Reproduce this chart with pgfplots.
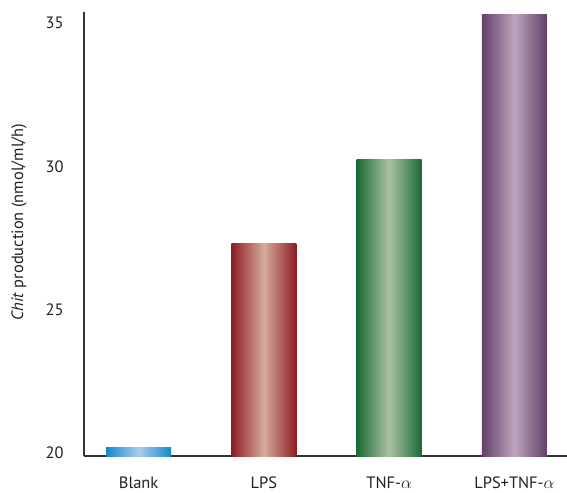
\documentclass[border=0pt]{standalone}
\usepackage{pgfplots}
\pgfplotsset{compat=1.18}
\usepackage{fontspec}
\setmainfont{PT Sans}
\definecolor{bd}{HTML}{1787CC}\definecolor{bl}{HTML}{AACDEA}
\definecolor{rd}{HTML}{8E1B22}\definecolor{rl}{HTML}{D6AC9E}
\definecolor{gd}{HTML}{1A6A34}\definecolor{gl}{HTML}{ABC2A4}
\definecolor{pd}{HTML}{643E69}\definecolor{pl}{HTML}{BBA6BB}
\definecolor{txt}{HTML}{231F20}
\begin{document}
\begin{tikzpicture}
\begin{axis}[name=ax, scale only axis, width=483bp, height=444bp,
  xmin=-0.436, xmax=3.42, ymin=19.9, ymax=35.38,
  axis x line=bottom, axis y line=left, axis line style={-, draw=black!80, line width=1.1pt},
  xtick={0,1,2,3}, xticklabels={Blank, LPS, TNF-$\alpha$, LPS+TNF-$\alpha$},
  ytick={20,25,30,35}, major tick length=0pt,
  /pgf/number format/assume math mode=true,
  tick label style={font=\fontsize{16.5}{18}\selectfont, text=txt},
  xticklabel style={yshift=-17bp},
  yticklabel style={xshift=-17bp},
  ylabel={\textit{Chit} production (nmol/ml/h)},
  every axis y label/.style={at={(rel axis cs:0,0.527)}, rotate=90, anchor=center, yshift=65bp,
     font=\fontsize{16.5}{18}\selectfont, text=txt},
  ybar, bar width=0.52, bar shift=0pt,
]
\addplot[draw=none, left color=bd, right color=bd, middle color=bl] coordinates {(0,20.21)};
\addplot[draw=none, left color=rd, right color=rd, middle color=rl] coordinates {(1,27.32)};
\addplot[draw=none, left color=gd, right color=gd, middle color=gl] coordinates {(2,30.25)};
\addplot[draw=none, left color=pd, right color=pd, middle color=pl] coordinates {(3,35.28)};
\end{axis}
\pgfresetboundingbox
\path ([xshift=-84bp,yshift=-37bp]ax.south west) rectangle ([yshift=12bp]ax.north east);
\end{tikzpicture}
\end{document}
